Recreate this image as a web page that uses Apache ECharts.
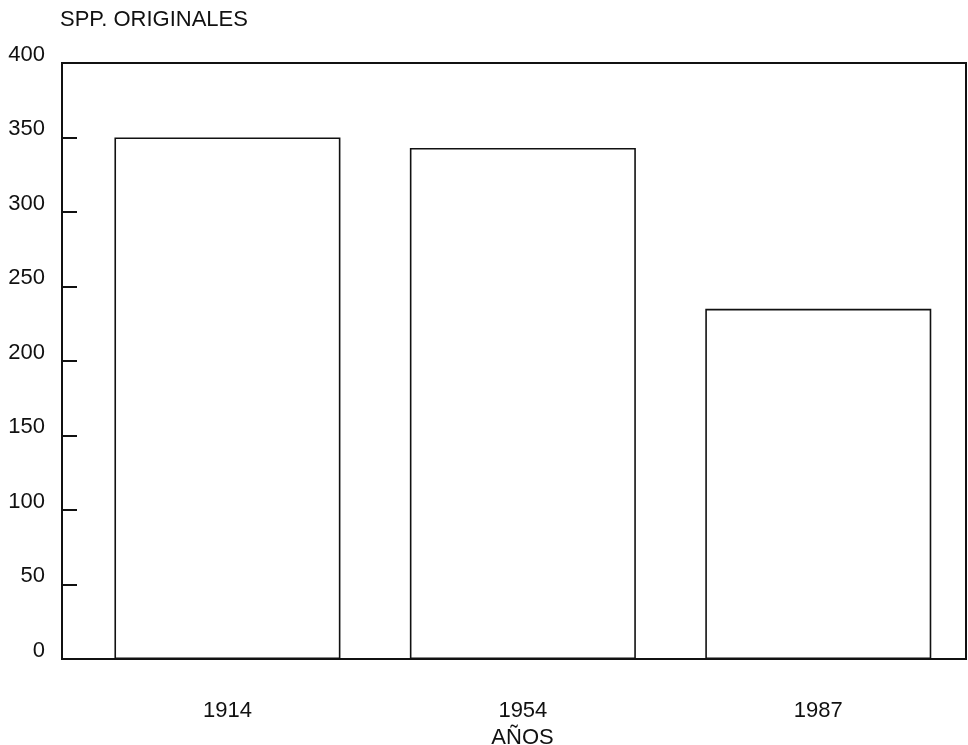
<!DOCTYPE html>
<html>
<head>
<meta charset="utf-8">
<script src="https://cdn.jsdelivr.net/npm/echarts@6/dist/echarts.min.js"></script>
<style>html,body{margin:0;padding:0;background:#fff}#c{width:968px;height:745px}</style>
</head>
<body>
<div id="c"></div>
<script>
const years = ['1914', '1954', '1987'];
const species = [350, 343, 235];
const yTicks = [0, 50, 100, 150, 200, 250, 300, 350, 400];
const yTitle = 'SPP. ORIGINALES';
const xTitle = 'AÑOS';

const ink = '#111';
const font = 'Liberation Sans, Arial, Helvetica, sans-serif';
const chart = echarts.init(document.getElementById('c'));
chart.setOption({
  animation: false,
  backgroundColor: '#fff',
  title: {
    text: yTitle, left: 55, top: 4,
    textStyle: { fontFamily: font, fontSize: 22, fontWeight: 'normal', color: ink }
  },
  grid: {
    left: 62, right: 2, top: 63, bottom: 86,
    outerBoundsMode: 'none', containLabel: false,
    show: true, borderColor: ink, borderWidth: 2, backgroundColor: 'transparent'
  },
  xAxis: {
    type: 'value', min: -0.56, max: 2.5,
    name: xTitle, nameLocation: 'middle', nameGap: 64,
    nameTextStyle: { fontFamily: font, fontSize: 22, color: ink, padding: [0, 0, 0, 17] },
    axisLine: { show: true, onZero: false, lineStyle: { color: ink, width: 2 } },
    axisTick: { show: false },
    splitLine: { show: false },
    axisLabel: {
      customValues: years.map((y, i) => i),
      formatter: v => years[Math.round(v)] ?? '',
      fontFamily: font, fontSize: 22, color: ink, margin: 41
    }
  },
  yAxis: {
    type: 'value', min: 0, max: 400, interval: 50,
    axisLine: { show: true, onZero: false, lineStyle: { color: ink, width: 2 } },
    axisTick: { show: true, inside: true, length: 15, lineStyle: { color: ink, width: 2 } },
    splitLine: { show: false },
    axisLabel: {
      fontFamily: font, fontSize: 22, color: ink, margin: 17,
      verticalAlign: 'bottom', lineHeight: 17
    }
  },
  series: [{
    type: 'bar',
    data: species.map((v, i) => [i, v]),
    barWidth: 226,
    itemStyle: { color: '#fff', borderColor: ink, borderWidth: 1.6 },
    silent: true
  }]
});
</script>
</body>
</html>
